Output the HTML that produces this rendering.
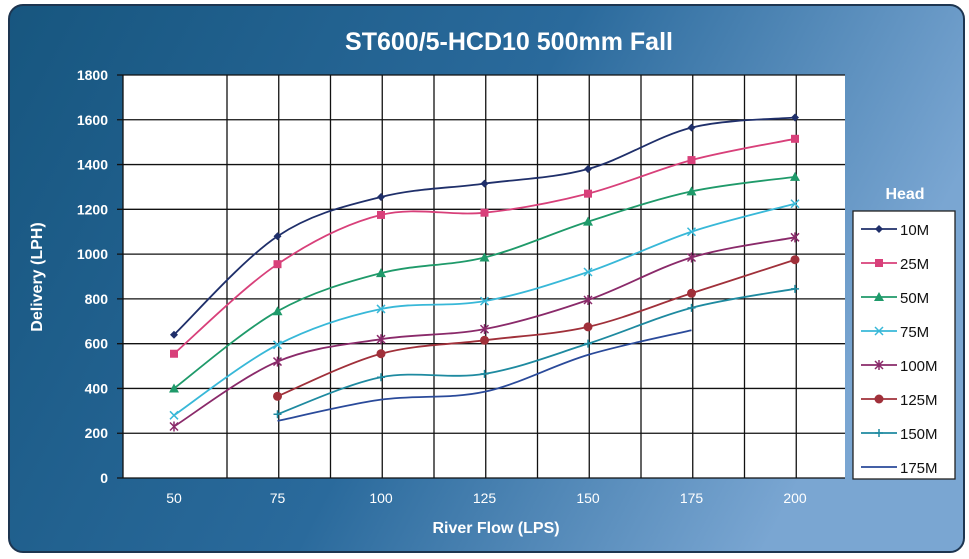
<!DOCTYPE html>
<html><head><meta charset="utf-8"><style>
html,body{margin:0;padding:0;background:#fff;width:969px;height:559px;overflow:hidden}
svg{display:block}
text{font-family:"Liberation Sans",sans-serif}
</style></head><body>
<svg id="s" width="969" height="559" viewBox="0 0 969 559" xmlns="http://www.w3.org/2000/svg">
<defs>
<linearGradient id="bg" x1="0" y1="0" x2="1" y2="0.3">
<stop offset="0" stop-color="#17567f"/><stop offset="0.55" stop-color="#2a6a9c"/><stop offset="1" stop-color="#7aa6d2"/>
</linearGradient>
</defs>
<rect x="9" y="5" width="955" height="547" rx="14" fill="url(#bg)" stroke="#1d3550" stroke-width="2"/>
<text x="509" y="50" fill="#fff" font-size="25" font-weight="bold" text-anchor="middle">ST600/5-HCD10  500mm Fall</text>
<rect x="123" y="75" width="722" height="403" fill="#fff"/>
<g id="grid" stroke="#111" stroke-width="1.3"></g>
<g id="lab" fill="#fff" font-size="14" font-weight="bold"></g>
<text x="496" y="533" fill="#fff" font-size="16" font-weight="bold" text-anchor="middle">River Flow (LPS)</text>
<text transform="translate(42,277) rotate(-90)" fill="#fff" font-size="16" font-weight="bold" text-anchor="middle">Delivery (LPH)</text>
<g id="ser"></g>
<text x="905" y="199" fill="#fff" font-size="16" font-weight="bold" text-anchor="middle">Head</text>
<rect x="853" y="211" width="102" height="268" fill="#fff" stroke="#222" stroke-width="1.3"/>
<g id="leg"></g>
</svg>
<script>
const NS="http://www.w3.org/2000/svg";
function el(p,t,a,txt){const e=document.createElementNS(NS,t);for(const k in a)e.setAttribute(k,a[k]);if(txt!=null)e.textContent=txt;p.appendChild(e);return e;}
const X=v=>174+(v-50)/25*103.5, Y=v=>478-v*403/1800;
const g=document.getElementById('grid'),lab=document.getElementById('lab');
for(let v=200;v<=1800;v+=200){el(g,'line',{x1:117,x2:845,y1:Y(v),y2:Y(v)});}
for(let v=0;v<=1800;v+=200){el(lab,'text',{x:108,y:Y(v)+5,'text-anchor':'end'},v);}
el(g,'line',{x1:123,x2:123,y1:75,y2:478});
el(g,'line',{x1:117,x2:845,y1:478,y2:478});
for(let i=0;i<12;i++){const x=227+i*51.75;el(g,'line',{x1:x,x2:x,y1:75,y2:478});}
for(let v=50;v<=200;v+=25)el(lab,'text',{x:X(v),y:503,'text-anchor':'middle','font-weight':'normal'},v);
const S=[
["10M","#1f2f6a","d",[[50,640],[75,1080],[100,1255],[125,1315],[150,1380],[175,1565],[200,1610]]],
["25M","#d8407a","s",[[50,555],[75,955],[100,1175],[125,1185],[150,1270],[175,1420],[200,1515]]],
["50M","#1f9a6a","t",[[50,400],[75,745],[100,915],[125,985],[150,1145],[175,1280],[200,1345]]],
["75M","#38b8d8","x",[[50,280],[75,595],[100,755],[125,790],[150,920],[175,1100],[200,1225]]],
["100M","#8a2a6a","a",[[50,230],[75,520],[100,620],[125,665],[150,795],[175,985],[200,1075]]],
["125M","#a0303a","c",[[75,365],[100,555],[125,615],[150,675],[175,825],[200,975]]],
["150M","#1e8aa0","p",[[75,285],[100,450],[125,465],[150,600],[175,760],[200,845]]],
["175M","#2a4a9a","n",[[75,255],[100,350],[125,385],[150,550],[175,660]]]];
function mark(p,type,x,y,c){
 if(type=="d")el(p,'path',{d:`M${x} ${y-4}L${x+4} ${y}L${x} ${y+4}L${x-4} ${y}Z`,fill:c});
 if(type=="s")el(p,'rect',{x:x-4,y:y-4,width:8,height:8,fill:c});
 if(type=="t")el(p,'path',{d:`M${x} ${y-5}L${x+5} ${y+4}L${x-5} ${y+4}Z`,fill:c});
 if(type=="x"){el(p,'path',{d:`M${x-4} ${y-4}L${x+4} ${y+4}M${x+4} ${y-4}L${x-4} ${y+4}`,stroke:c,'stroke-width':1.5});}
 if(type=="a"){el(p,'path',{d:`M${x-4} ${y-4}L${x+4} ${y+4}M${x+4} ${y-4}L${x-4} ${y+4}M${x} ${y-5}L${x} ${y+5}`,stroke:c,'stroke-width':1.5});}
 if(type=="c")el(p,'circle',{cx:x,cy:y,r:4.5,fill:c});
 if(type=="p")el(p,'path',{d:`M${x-4} ${y}L${x+4} ${y}M${x} ${y-4}L${x} ${y+4}`,stroke:c,'stroke-width':1.5});
}
const ser=document.getElementById('ser'),leg=document.getElementById('leg');
S.forEach((s,i)=>{
 const P=s[3].map(q=>[X(q[0]),Y(q[1])]);
 let d=`M${P[0][0]} ${P[0][1]}`;
 for(let k=0;k<P.length-1;k++){
  const p0=P[k-1]||P[k],p1=P[k],p2=P[k+1],p3=P[k+2]||P[k+1],t=0.5/3*1.0;
  const c1=[p1[0]+(p2[0]-p0[0])/6,p1[1]+(p2[1]-p0[1])/6],c2=[p2[0]-(p3[0]-p1[0])/6,p2[1]-(p3[1]-p1[1])/6];
  d+=`C${c1[0]} ${c1[1]} ${c2[0]} ${c2[1]} ${p2[0]} ${p2[1]}`;
 }
 el(ser,'path',{d,fill:'none',stroke:s[1],'stroke-width':1.8});
 P.forEach(p=>mark(ser,s[2],p[0],p[1],s[1]));
 const ly=229+i*34;
 el(leg,'line',{x1:861,x2:897,y1:ly,y2:ly,stroke:s[1],'stroke-width':1.8});
 mark(leg,s[2],879,ly,s[1]);
 el(leg,'text',{x:900,y:ly+6,'font-size':15,fill:'#111'},s[0]);
});
</script>
</body></html>
